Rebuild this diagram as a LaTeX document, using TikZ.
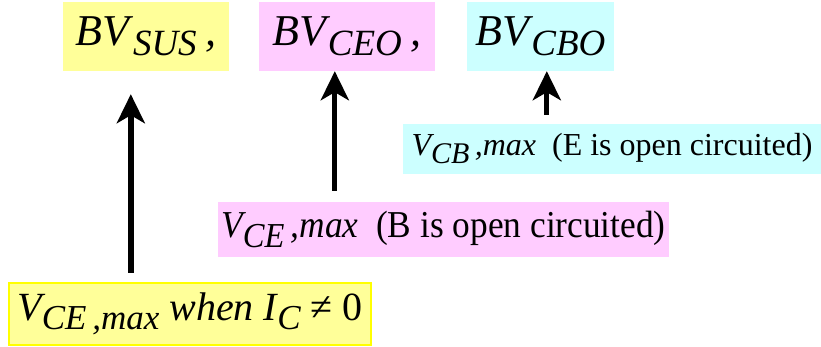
\documentclass[tikz,border=0pt]{standalone}
\usepackage{fontspec}
\setmainfont{Liberation Serif}
\newfontfamily\pinkrm[FakeStretch=0.93]{Liberation Serif}
\usetikzlibrary{arrows.meta, calc}
\definecolor{bvYellow}{RGB}{255,255,153}
\definecolor{bvPink}{RGB}{255,204,255}
\definecolor{bvCyan}{RGB}{204,255,255}
\definecolor{bvEdge}{RGB}{255,255,0}
% lowered subscript: drop (pt), size (pt), text
\newcommand{\lowsub}[3]{\raisebox{-#1pt}{\fontsize{#2}{#2}\selectfont #3}}

\begin{document}
\begin{tikzpicture}[
    x=1pt, y=1pt,
    bvbox/.style  = {fill=#1, inner sep=0pt, align=center},
    uparrow/.style = {-{Stealth[length=29pt,width=28pt,inset=8pt]},
                      line width=5pt, draw=black}
]
\useasboundingbox (0,0) rectangle (821,347);

% Breakdown voltage names (top row)
\node[bvbox=bvYellow, minimum width=166, minimum height=69] (sus) at (146,310.5)
    {\itshape\fontsize{44}{44}\selectfont BV\hspace{4pt}\lowsub{10}{37}{SUS}\hspace{9pt},};
\node[bvbox=bvPink, minimum width=176, minimum height=69] (ceo) at (347,310.5)
    {\itshape\fontsize{44}{44}\selectfont BV\hspace{2pt}\lowsub{10}{37}{CEO}\hspace{9pt},};
\node[bvbox=bvCyan, minimum width=147, minimum height=69] (cbo) at (540.5,310.5)
    {\itshape\fontsize{44}{44}\selectfont BV\hspace{2pt}\lowsub{10}{37}{CBO}};

% Their meanings
\node[bvbox=bvCyan, minimum width=418, minimum height=50] (cb) at (612,198)
    {\fontsize{32}{32}\selectfont\itshape V\lowsub{8}{30}{CB}\,,max\upshape\ \ (E is open circuited)};
\node[bvbox=bvPink, minimum width=451, minimum height=55] (ce) at (443.5,117.5)
    {\pinkrm\fontsize{38}{38}\selectfont\itshape V\lowsub{10}{35}{CE}\,,max\upshape\ \ (B is open circuited)};
\node[bvbox=bvYellow, draw=bvEdge, line width=2pt,
      minimum width=362, minimum height=62] (when) at (190,33)
    {\itshape\fontsize{40}{40}\selectfont V\lowsub{9}{35}{CE\,,max}\ when I\lowsub{9}{35}{C} \upshape≠ 0};

% Arrow tips under the top row
\coordinate (susTip) at ($(sus.south west)+(68,-23)$);
\coordinate (ceoTip) at ($(ceo.south west)+(76,0)$);
\coordinate (cboTip) at ($(cbo.south west)+(80,0)$);

% Arrows
\draw[uparrow, line width=6pt] ($(susTip |- when.north)+(0,9)$) -- (susTip);
\draw[uparrow] ($(ceoTip |- ce.north)+(0,11)$) -- (ceoTip);
\draw[uparrow] ($(cboTip |- cb.north)+(0,9)$) -- (cboTip);

\end{tikzpicture}
\end{document}
